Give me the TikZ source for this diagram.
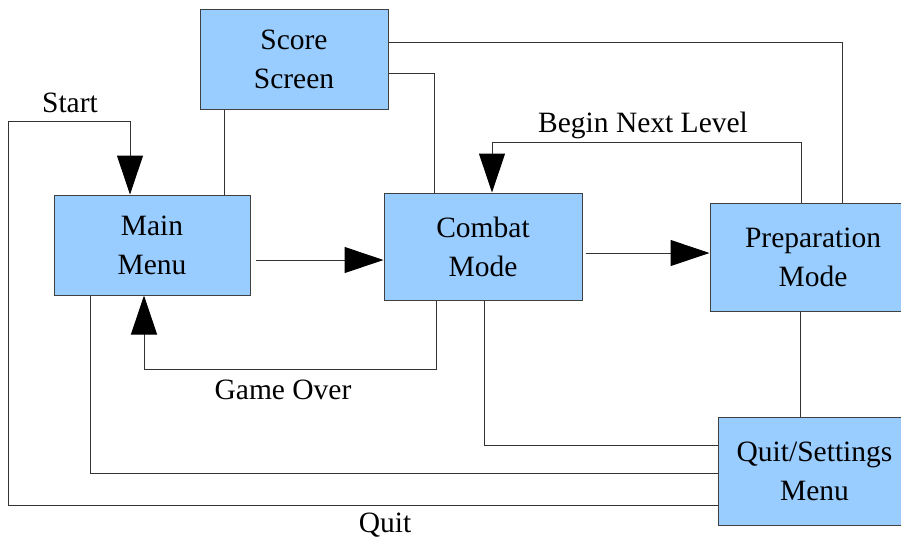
\documentclass[tikz,border=0pt]{standalone}
\usepackage{fontspec}
\setmainfont{Liberation Serif}
\usetikzlibrary{arrows.meta,positioning}
\definecolor{boxblue}{HTML}{99CCFF}
\tikzset{
    statebox/.style={
        draw=black!75, fill=boxblue, rectangle, line width=1pt,
        align=center, inner sep=0pt, text=black,
        font=\rmfamily\fontsize{29.5}{39}\selectfont
    },
    lbl/.style={inner sep=0pt, font=\rmfamily\fontsize{29.5}{39}\selectfont}
}

\begin{document}
\begin{tikzpicture}[
        x=1pt, y=-1pt,
        link/.style={draw=black!80, line width=1pt},
        arr/.style={link, -{Triangle[length=39pt,width=26pt,black]}}
      ]

  \useasboundingbox (0,0) rectangle (901,542);
  \clip (0,0) rectangle (901,542);

  \node[statebox, minimum width=188pt, minimum height=100pt] (score)  at (294,59)    {Score\\Screen};
  \node[statebox, minimum width=196pt, minimum height=100pt] (main)   at (152,245)   {Main\\Menu};
  \node[statebox, minimum width=198pt, minimum height=107pt] (combat) at (483,246.5) {Combat\\Mode};
  \node[statebox, minimum width=206pt, minimum height=108pt] (prep)   at (813,257)   {Preparation\\Mode};
  \node[statebox, minimum width=193pt, minimum height=108pt] (quit)   at (814.5,471) {Quit/Settings\\Menu};

  \node[lbl] (startlbl) at (70,103)  {Start};
  \node[lbl] (nextlbl)  at (643,125) {Begin Next Level};
  \node[lbl] (overlbl)  at (283,390) {Game Over};
  \node[lbl] (quitlbl)  at (385,525) {Quit};

  % transitions with arrows
  \draw[arr] ([shift={(0,34)}]quit.west) -| (8,121) -| ([xshift=-22pt]main.north);
  \draw[arr] ([shift={(5,15)}]main.east) -- ([shift={(0,13.5)}]combat.west);
  \draw[arr] ([shift={(3,6.5)}]combat.east) -- ([shift={(0,-4)}]prep.west);
  \draw[arr] ([xshift=-12pt]prep.north) -- ++(0,-60) -| ([xshift=9pt]combat.north);
  \draw[arr] ([xshift=-47pt]combat.south) -- ++(0,69) -| ([xshift=-8pt]main.south);

  % plain links
  \draw[link] ([shift={(0,-17)}]score.east) -| ([xshift=29pt]prep.north);
  \draw[link] ([shift={(0,14)}]score.east) -| ([xshift=-49pt]combat.north);
  \draw[link] ([xshift=72pt]main.north) -- ([xshift=-70pt]score.south);
  \draw[link] ([xshift=-62pt]main.south) |- ([shift={(0,2)}]quit.west);
  \draw[link] ([xshift=1pt]combat.south) |- ([shift={(0,-26)}]quit.west);
  \draw[link] ([xshift=-13pt]prep.south) -- ([xshift=-14.5pt]quit.north);

\end{tikzpicture}
\end{document}
